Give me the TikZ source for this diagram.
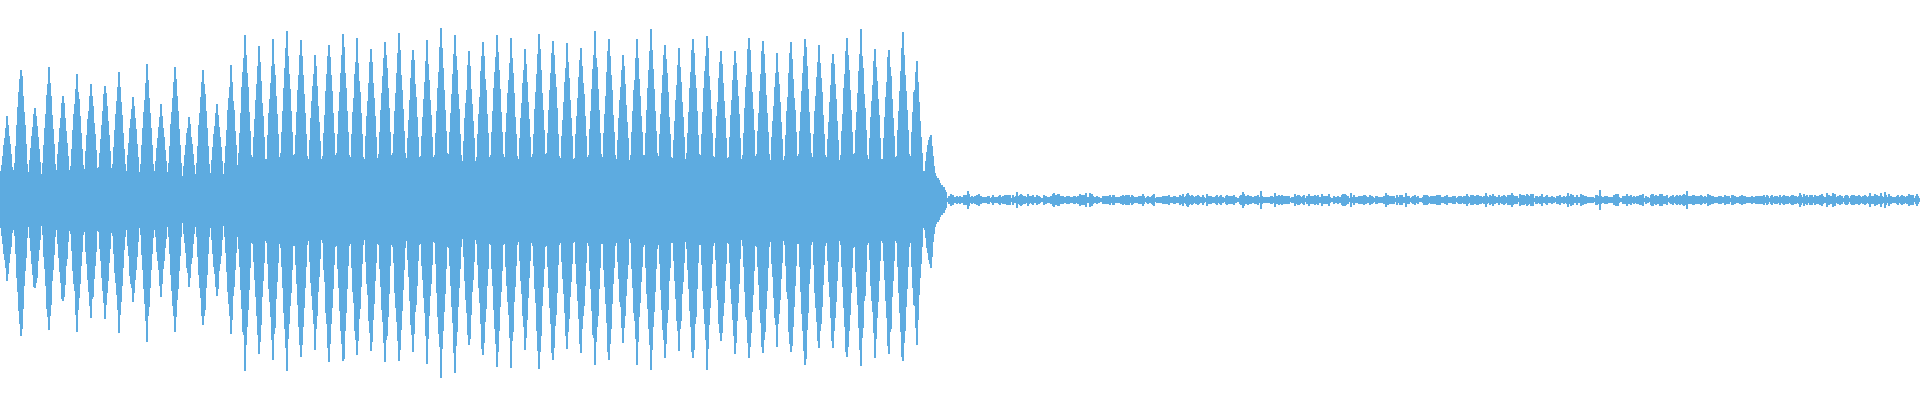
\documentclass[tikz,border=0pt]{standalone}
\definecolor{wave}{RGB}{93,171,224}
\begin{document}
\begin{tikzpicture}[x=0.01cm,y=0.01cm,wl/.style={draw=wave,line width=0.013cm}]
\useasboundingbox (0,0) rectangle (1920,400);
\pgfmathsetseed{7}
\foreach \i in {0,...,934}{
  \pgfmathsetmacro\ph{mod(\i,14)}
  \pgfmathsetmacro\p{floor(\i/14)}
  \pgfmathsetmacro\env{\p<17 ? 85+55*abs(sin(\p*97)) : (\i<915 ? 150+22*abs(sin(\p*131)) : 150-(\i-915)*5)}
  \pgfmathsetmacro\pu{max(0,1-abs(\ph-7)/7.5)^0.8}
  \pgfmathsetmacro\core{20+10*rnd}
  \pgfmathsetmacro\h{max(\core,\env*\pu*(0.93+0.07*rnd))}
  \pgfmathsetmacro\hl{\h*(0.95+0.1*rnd)}
  \draw[wl] (\i,200-\hl) -- (\i,200+\h);
}
\foreach \i in {935,...,946}{
  \pgfmathsetmacro\h{25-(\i-935)*1.8+4*rnd}
  \draw[wl] (\i,200-\h) -- (\i,200+\h);
}
\foreach \i in {947,...,1919}{
  \pgfmathsetmacro\h{1.5+3*rnd+10*rnd*rnd*rnd*rnd}
  \draw[wl] (\i,200-\h) -- (\i,200+\h);
}
\end{tikzpicture}
\end{document}
